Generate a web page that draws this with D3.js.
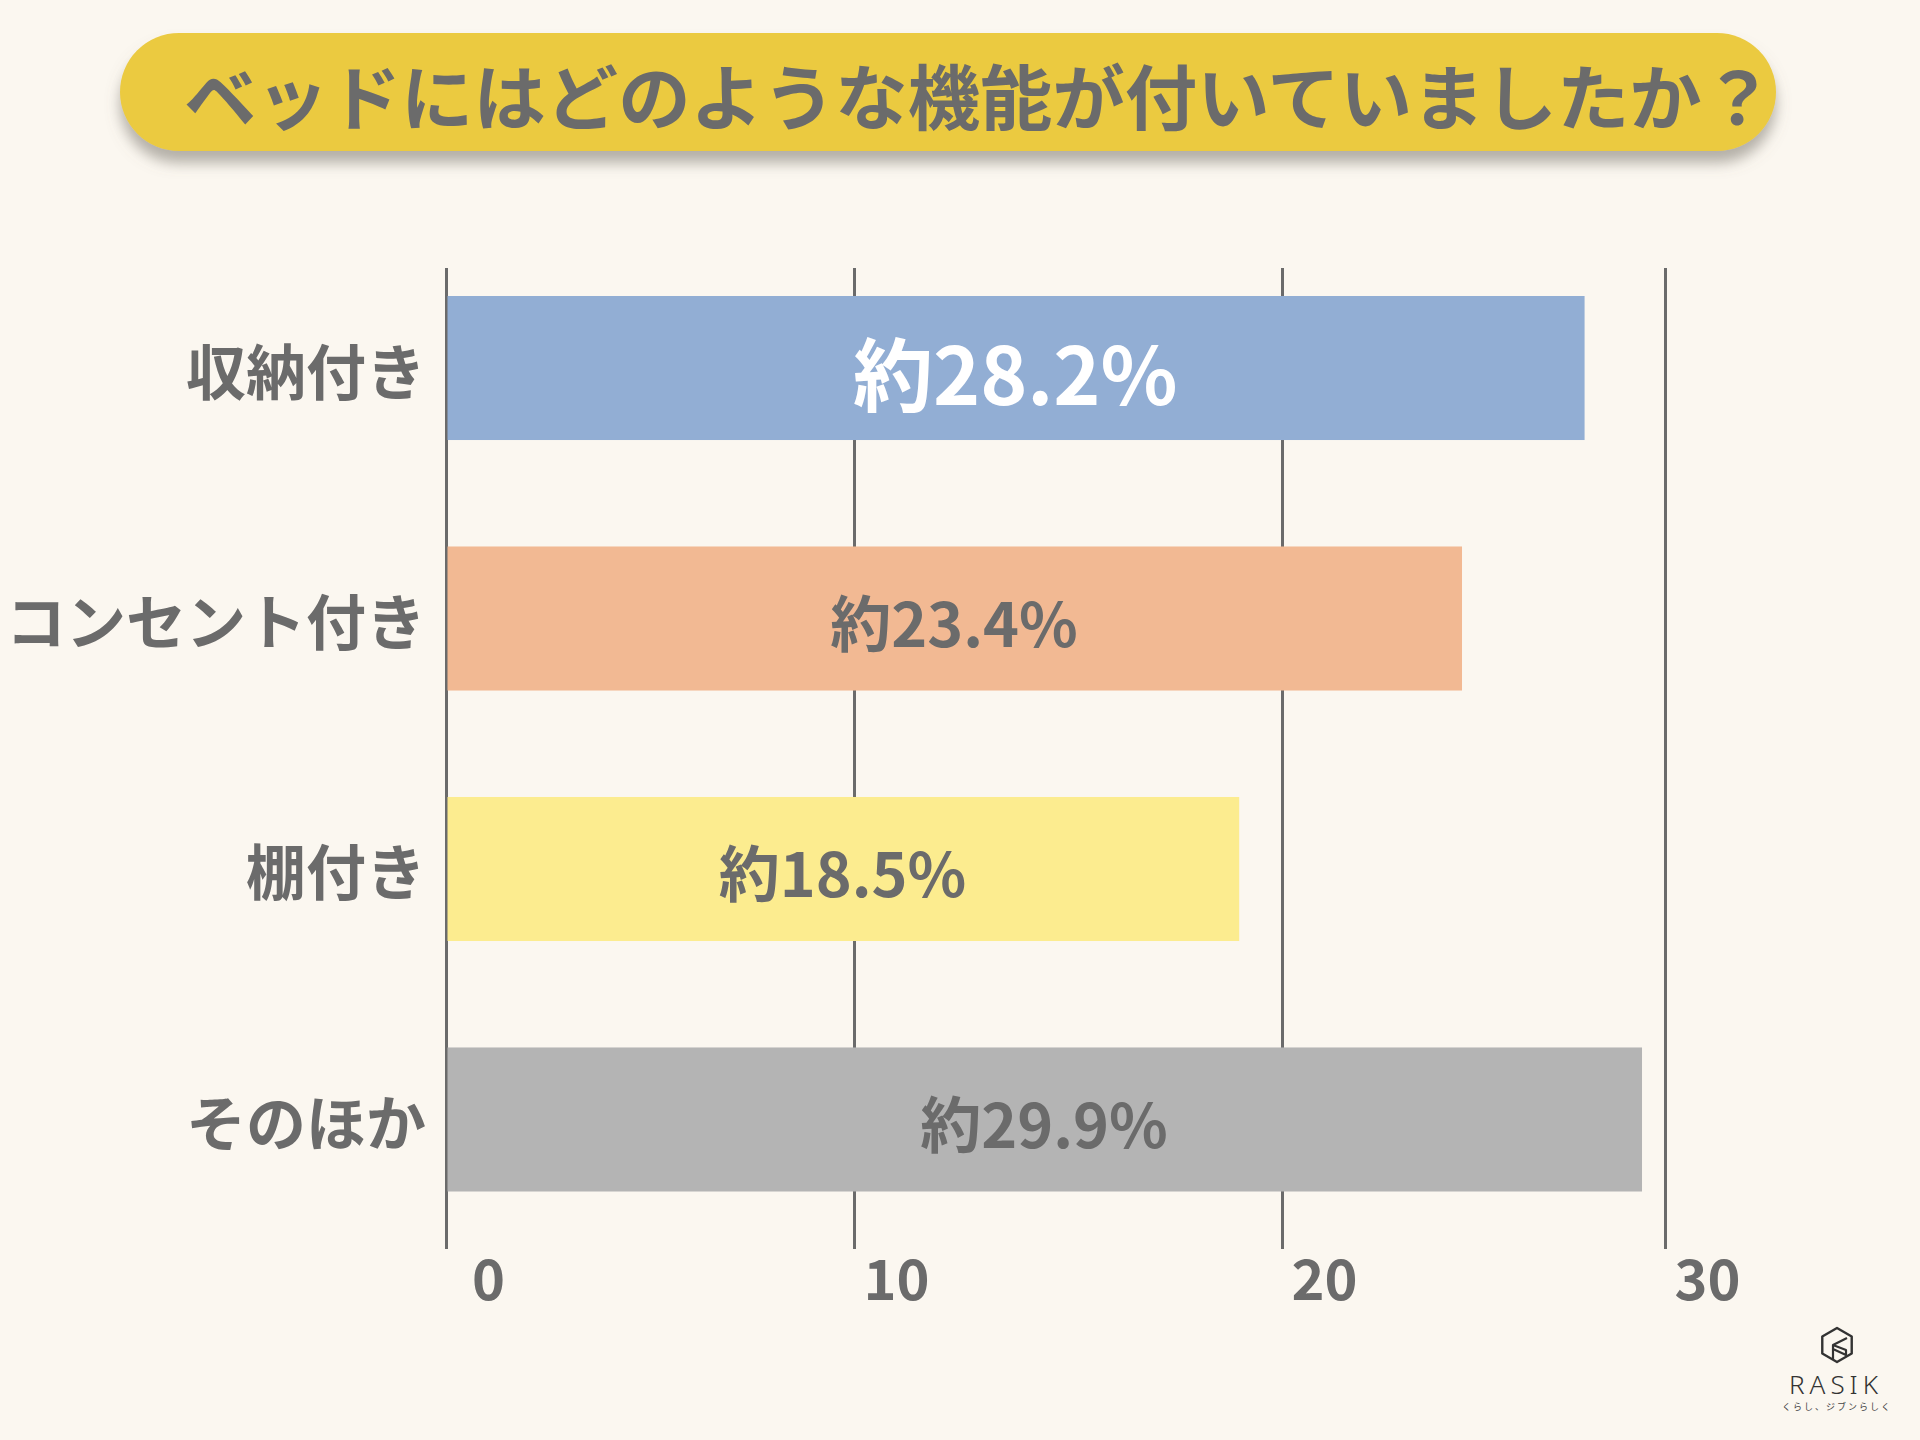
<!DOCTYPE html>
<html><head><meta charset="utf-8">
<script src="https://cdn.jsdelivr.net/npm/d3@7"></script>
<style>html,body{margin:0;padding:0;background:#fbf7f0;} svg{display:block}</style>
</head><body>
<script>
const title = "ベッドにはどのような機能が付いていましたか？";
const categories = ["収納付き", "コンセント付き", "棚付き", "そのほか"];
// bar lengths as drawn in the picture (read against the gridlines)
const values = [27.9, 24.7, 19.0, 29.4];
const valueLabels = ["約28.2%", "約23.4%", "約18.5%", "約29.9%"];
const tickValues = [0, 10, 20, 30];
const tickLabels = ["0", "10", "20", "30"];
const barColors = ["#92aed4", "#f2b993", "#fcec8f", "#b4b4b4"];
const labelColors = ["#ffffff", "#6b6b6b", "#6b6b6b", "#6b6b6b"];

const W = 1920, H = 1440;
const FONT = "'Noto Sans CJK JP', 'Noto Sans', sans-serif";
const TXT = "#6b6b6b";

const svg = d3.select("body").append("svg").attr("width", W).attr("height", H);
svg.append("rect").attr("width", W).attr("height", H).attr("fill", "#fbf7f0");

const defs = svg.append("defs");
const f = defs.append("filter").attr("id", "shadow").attr("x", "-5%").attr("y", "-30%").attr("width", "110%").attr("height", "180%");
f.append("feDropShadow").attr("dx", 0).attr("dy", 12).attr("stdDeviation", 7)
  .attr("flood-color", "#7a766c").attr("flood-opacity", 0.55);

// Title pill
svg.append("rect").attr("x", 120).attr("y", 33).attr("width", 1656).attr("height", 118)
  .attr("rx", 59).attr("fill", "#ebca40").attr("filter", "url(#shadow)");
svg.append("text").attr("x", 184).attr("y", 93)
  .attr("dominant-baseline", "central")
  .attr("font-family", FONT).attr("font-weight", 700).attr("font-size", 71)
  .attr("fill", TXT).attr("textLength", 1590).attr("lengthAdjust", "spacingAndGlyphs")
  .text(title);

// Scales
const gridTop = 268, gridBottom = 1249;
const x = d3.scaleLinear().domain(tickValues).range([446, 854, 1282, 1665]);
const y = d3.scaleBand().domain(categories).range([296, 1191.5]).paddingInner(0.425).paddingOuter(0);

// Axis with full-height gridlines
const axis = d3.axisBottom(x).tickValues(tickValues)
  .tickFormat((d, i) => tickLabels[i]).tickSize(-(gridBottom - gridTop));
const ag = svg.append("g").attr("transform", `translate(0,${gridBottom})`).call(axis);
ag.select(".domain").remove();
ag.selectAll(".tick line").attr("stroke", TXT).attr("stroke-width", 3);
ag.selectAll(".tick text")
  .attr("x", 42).attr("y", 51).attr("dy", null)
  .attr("text-anchor", "middle")
  .attr("font-family", FONT).attr("font-weight", 700).attr("font-size", 56)
  .attr("fill", TXT);

// Bars
const data = categories.map((c, i) => ({c, v: values[i], label: valueLabels[i], i}));
svg.append("g").selectAll("rect").data(data).join("rect")
  .attr("x", x(0) + 1.5)
  .attr("y", d => y(d.c))
  .attr("width", d => x(d.v) - x(0) - 1.5)
  .attr("height", y.bandwidth())
  .attr("fill", d => barColors[d.i]);

// Value labels
svg.append("g").selectAll("text").data(data).join("text")
  .attr("x", d => (x(0) + x(d.v)) / 2)
  .attr("y", d => y(d.c) + y.bandwidth() / 2 + 2)
  .attr("text-anchor", "middle").attr("dominant-baseline", "central")
  .attr("font-family", FONT).attr("font-weight", 700)
  .attr("font-size", d => d.i === 0 ? 80 : 61)
  .attr("fill", d => labelColors[d.i])
  .text(d => d.label);

// Category labels
svg.append("g").selectAll("text").data(data).join("text")
  .attr("x", 426)
  .attr("y", d => y(d.c) + y.bandwidth() / 2)
  .attr("text-anchor", "end").attr("dominant-baseline", "central")
  .attr("font-family", FONT).attr("font-weight", 700).attr("font-size", 60)
  .attr("fill", TXT)
  .text(d => d.c);

// Logo
const lg = svg.append("g").attr("transform", "translate(1837,1345)");
const r = 17;
const hex = d3.range(6).map(k => {
  const a = (-90 + 60 * k) * Math.PI / 180;
  return [r * Math.cos(a), r * Math.sin(a)];
});
lg.append("path").attr("d", d3.line()(hex) + "Z")
  .attr("fill", "none").attr("stroke", "#333").attr("stroke-width", 2.4).attr("stroke-linejoin", "round");
lg.append("path").attr("d", "M-4,14 L-4,0 L10,-7 M-4,0 L9,5 L9,10 L-4,4")
  .attr("fill", "none").attr("stroke", "#333").attr("stroke-width", 2.2).attr("stroke-linejoin", "round");
svg.append("text").attr("x", 1836).attr("y", 1394).attr("text-anchor", "middle")
  .attr("font-family", "'Noto Sans', sans-serif").attr("font-weight", 300).attr("font-size", 26)
  .attr("letter-spacing", 5).attr("fill", "#333").text("RASIK");
svg.append("text").attr("x", 1837).attr("y", 1410).attr("text-anchor", "middle")
  .attr("font-family", FONT).attr("font-size", 9)
  .attr("letter-spacing", 2).attr("fill", "#444").text("くらし、ジブンらしく");
</script>
</body></html>
